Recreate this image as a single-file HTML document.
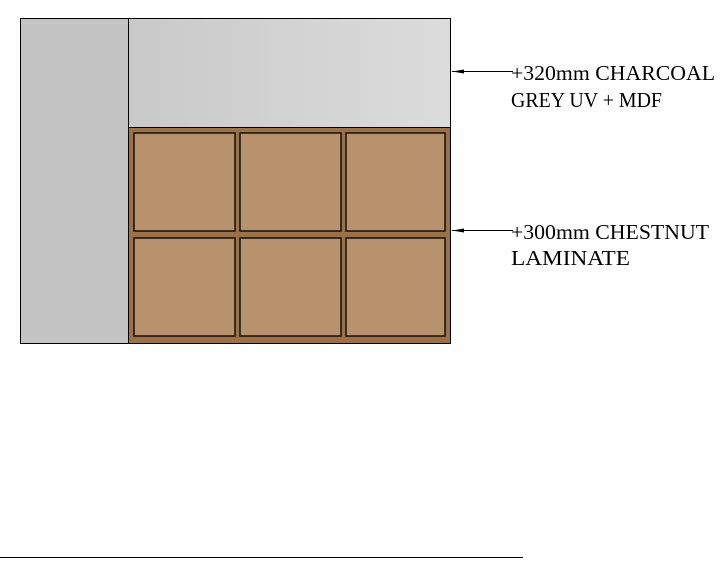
<!DOCTYPE html>
<html><head><style>body{margin:0;background:#fff}</style></head><body>
<svg width="723" height="571" xmlns="http://www.w3.org/2000/svg" style="display:block">
<defs>
<linearGradient id="g" x1="0" x2="1"><stop offset="0" stop-color="#c9c9c9"/><stop offset="1" stop-color="#dcdcdc"/></linearGradient>
</defs>
<rect x="20.5" y="18.5" width="108" height="325" fill="#c4c4c4" stroke="#000"/>
<rect x="128.5" y="18.5" width="322" height="109" fill="url(#g)" stroke="#000"/>
<rect x="128.5" y="127.5" width="322" height="216" fill="#9c7146" stroke="#000"/>
<g fill="#b8926d" stroke="#111" stroke-width="1.5">
<rect x="134" y="133" width="101" height="98"/>
<rect x="240" y="133" width="101" height="98"/>
<rect x="346" y="133" width="99" height="98"/>
<rect x="134" y="238" width="101" height="98"/>
<rect x="240" y="238" width="101" height="98"/>
<rect x="346" y="238" width="99" height="98"/>
</g>
<g stroke="#000" stroke-width="1">
<line x1="452" y1="71.5" x2="513" y2="71.5"/>
<line x1="452" y1="230.5" x2="513" y2="230.5"/>
<line x1="0" y1="557.5" x2="523" y2="557.5"/>
</g>
<polygon points="452,71.5 464,69.5 464,73.5" fill="#000"/>
<polygon points="452,230.5 464,228.5 464,232.5" fill="#000"/>
<g font-family="Liberation Serif, serif" font-size="21" fill="#000">
<text x="511" y="80" textLength="204" lengthAdjust="spacingAndGlyphs">+320mm CHARCOAL</text>
<text x="511" y="107" textLength="151" lengthAdjust="spacingAndGlyphs">GREY UV + MDF</text>
<text x="511" y="239" textLength="198" lengthAdjust="spacingAndGlyphs">+300mm CHESTNUT</text>
<text x="511" y="265" textLength="119" lengthAdjust="spacingAndGlyphs">LAMINATE</text>
</g>
</svg>
</body></html>
